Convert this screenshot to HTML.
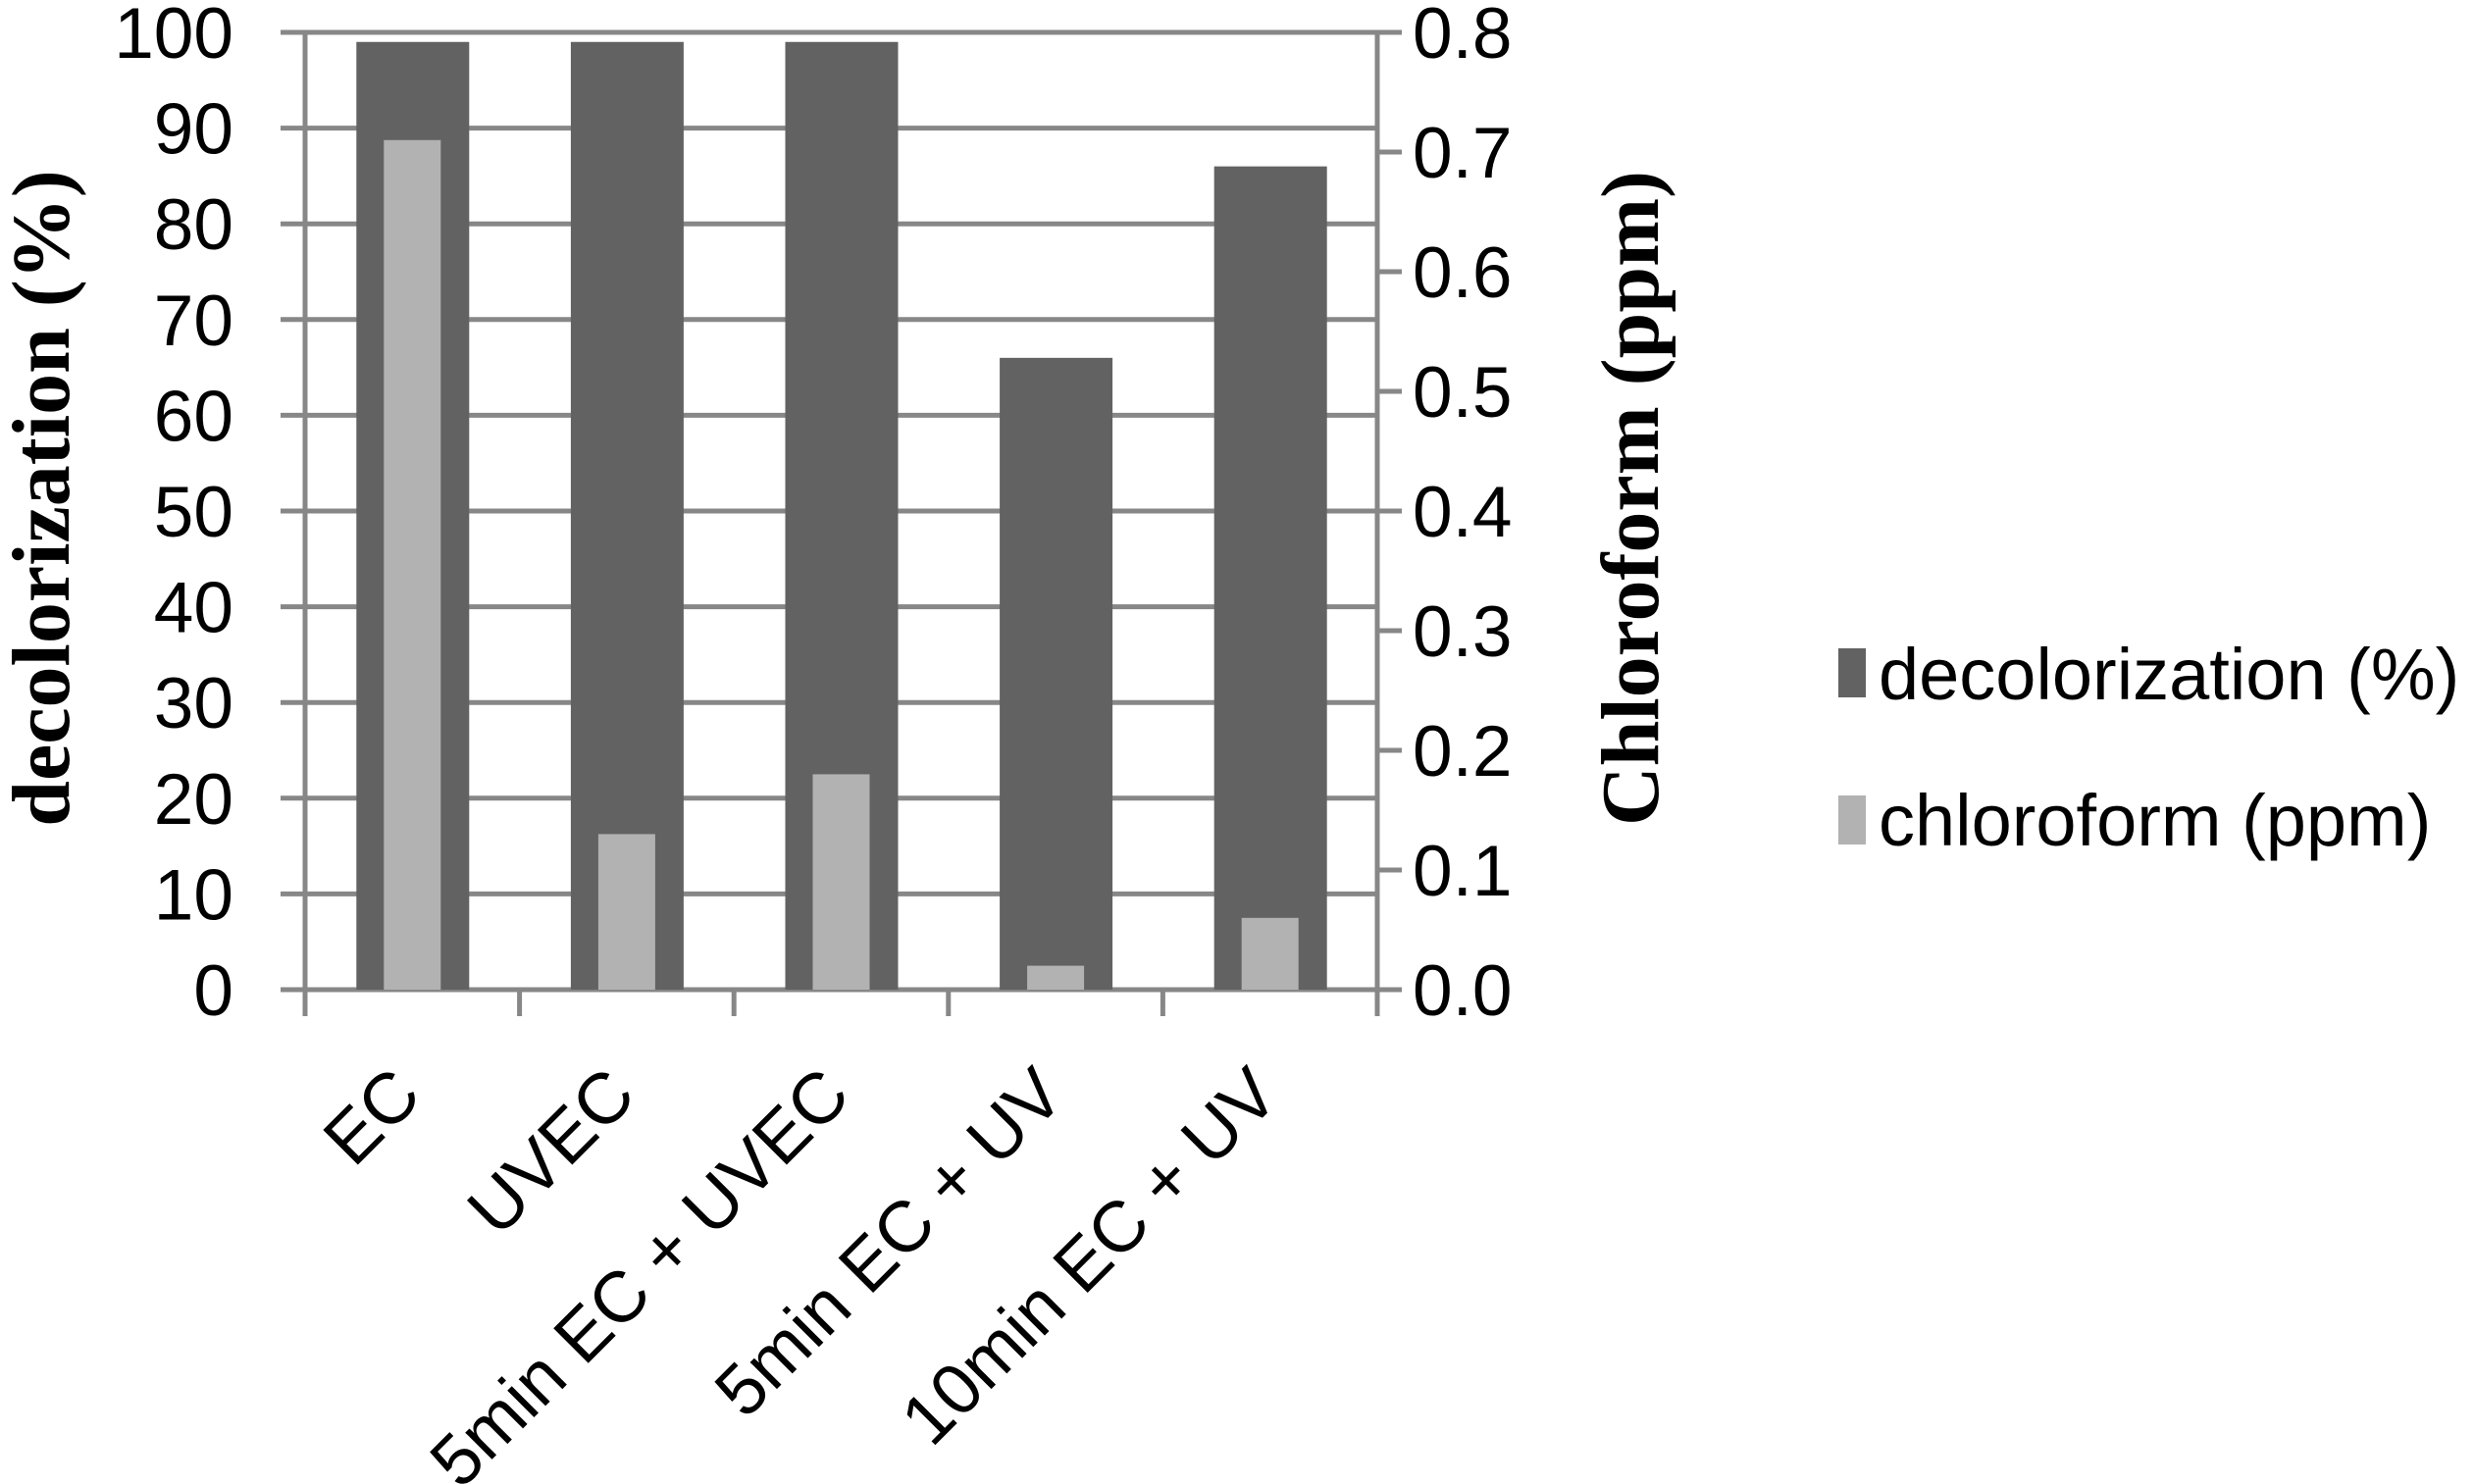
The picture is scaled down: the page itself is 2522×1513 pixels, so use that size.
<!DOCTYPE html>
<html><head><meta charset="utf-8"><style>
html,body{margin:0;padding:0;background:#fff;}
svg{display:block;}
</style></head><body>
<svg id="chart" width="2522" height="1513" viewBox="0 0 2522 1513" xmlns="http://www.w3.org/2000/svg" font-family="Liberation Sans, sans-serif">
<g id="grid"></g>
<g id="bars"></g>
<g id="axes"></g>
<text transform="translate(70,508) rotate(-90)" text-anchor="middle" font-family="Liberation Serif, serif" font-weight="bold" font-size="84" fill="#000">decolorization (%)</text>
<text transform="translate(1690,508) rotate(-90)" text-anchor="middle" font-family="Liberation Serif, serif" font-weight="bold" font-size="84" fill="#000">Chloroform (ppm)</text>
<g>
<g>
<rect x="1874" y="661" width="28" height="50" fill="#626262"/>
<text x="1915" y="713" font-size="74" fill="#000">decolorization (%)</text>
</g>
<g>
<rect x="1874" y="811" width="28" height="50" fill="#b2b2b2"/>
<text x="1915" y="862" font-size="74" fill="#000">chloroform (ppm)</text>
</g>
</g>
</svg>
<script>
const categories=["EC","UVEC","5min EC + UVEC","5min EC + UV","10min EC + UV"];
const decolorization=[99,99,99,66,86];
const chloroform=[0.71,0.13,0.18,0.02,0.06];
const leftTicks=[0,10,20,30,40,50,60,70,80,90,100];
const rightTicks=["0.0","0.1","0.2","0.3","0.4","0.5","0.6","0.7","0.8"];

const NS="http://www.w3.org/2000/svg";
const L=311,R=1404,T=33,B=1009;
const yL=v=>B-(v/100)*(B-T);
const yR=v=>B-(v/0.8)*(B-T);
const cw=(R-L)/categories.length;
const cx=i=>L+cw*(i+0.5);
function mk(tag,attrs,parent){const e=document.createElementNS(NS,tag);for(const k in attrs)e.setAttribute(k,attrs[k]);parent.appendChild(e);return e;}
const grid=document.getElementById('grid'),bars=document.getElementById('bars'),axes=document.getElementById('axes');
const G="#878787";
leftTicks.forEach(v=>{
  const l=mk('line',{x1:L-25,x2:R,y1:yL(v),y2:yL(v),stroke:G,'stroke-width':5},grid);
  
  
  const t=mk('text',{x:238,y:yL(v)+26,'text-anchor':'end','font-size':73,fill:'#000'},axes);
  t.textContent=v;
  
  
});
rightTicks.forEach(s=>{
  const v=parseFloat(s);
  const l=mk('line',{x1:R,x2:R+25,y1:yR(v),y2:yR(v),stroke:G,'stroke-width':5},axes);
  
  
  const t=mk('text',{x:1440,y:yR(v)+26,'font-size':73,fill:'#000'},axes);
  t.textContent=s;
  
  
});
categories.forEach((c,i)=>{
  const h=mk('rect',{x:cx(i)-57,y:yL(decolorization[i]),width:115,height:B-yL(decolorization[i]),fill:'#626262'},bars);
  
  
  const k=mk('rect',{x:cx(i)-29,y:yR(chloroform[i]),width:58,height:B-yR(chloroform[i]),fill:'#b2b2b2'},bars);
  
  
  const t=mk('text',{transform:`translate(${cx(i)+12},1120) rotate(-45)`,'text-anchor':'end','font-size':73,fill:'#000'},axes);
  t.textContent=c;
  
  
});
for(let i=0;i<=categories.length;i++){
  const x=L+cw*i;
  const l=mk('line',{x1:x,x2:x,y1:B,y2:B+27,stroke:G,'stroke-width':5},axes);
  
  
}
const la=mk('line',{x1:L,x2:L,y1:T-2,y2:B+2,stroke:G,'stroke-width':5},axes);


const ra=mk('line',{x1:R,x2:R,y1:T-2,y2:B+2,stroke:G,'stroke-width':5},axes);


</script>
</body></html>
